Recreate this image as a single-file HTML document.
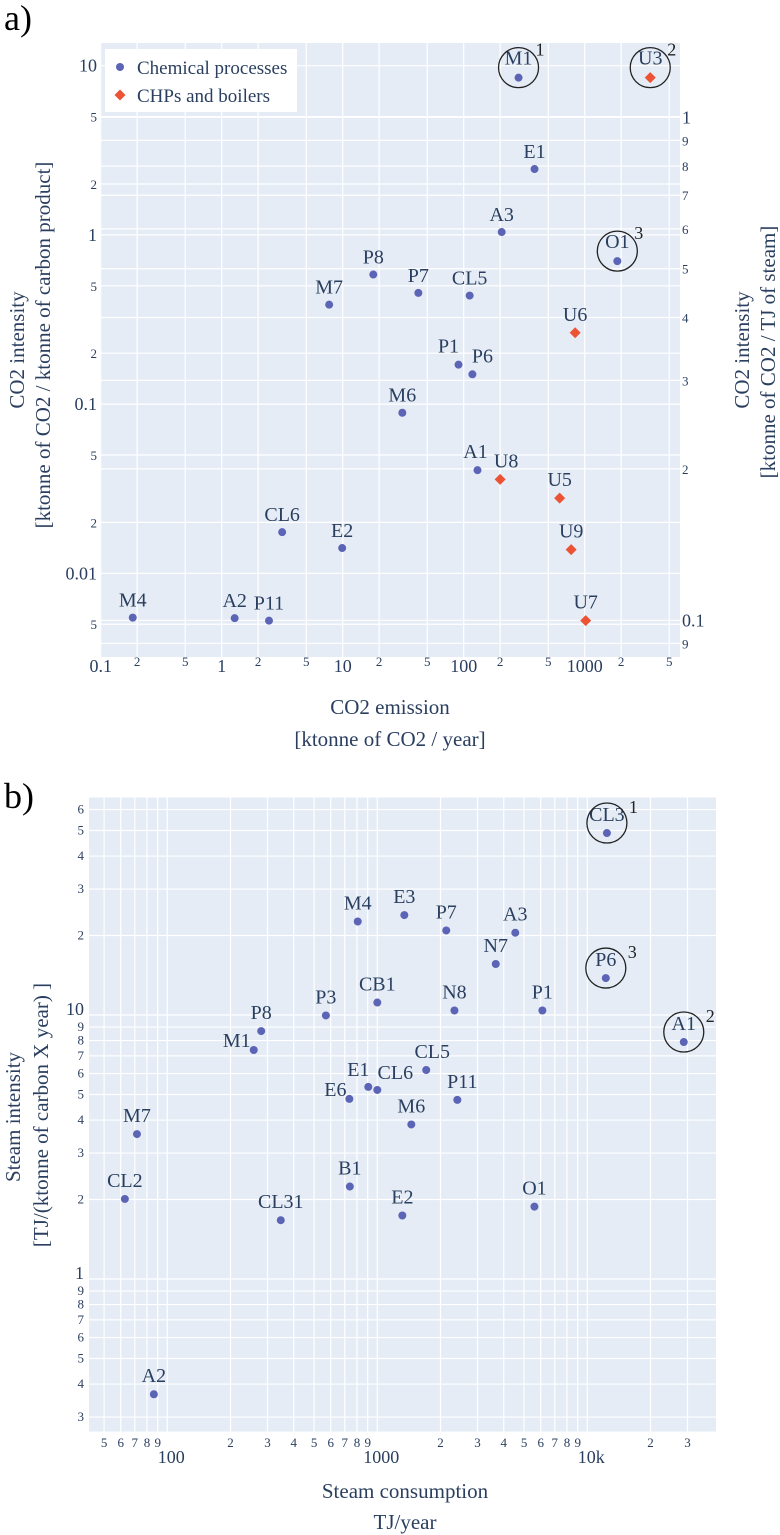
<!DOCTYPE html>
<html><head><meta charset="utf-8">
<style>
html,body{margin:0;padding:0;background:#fff;}
svg{display:block;font-family:"Liberation Serif",serif;}
</style></head>
<body>
<svg id="fig" width="780" height="1535" viewBox="0 0 780 1535" xmlns="http://www.w3.org/2000/svg">
<g id="chartA"></g>
<g id="chartB"></g>
</svg>
<script>
// ---------- Chart a data ----------
const aNames = ["M1","E1","A3","O1","P8","P7","CL5","M7","P1","P6","M6","A1","CL6","E2","M4","A2","P11"];
const aEmission = [284,385,206,1860,17.9,42.2,112,7.73,90.6,118,31.1,130,3.16,9.9,0.184,1.28,2.46];
const aIntensity = [8.5,2.45,1.04,0.70,0.583,0.454,0.438,0.387,0.171,0.150,0.0889,0.0407,0.0175,0.0141,0.00547,0.00543,0.00525];
const bNamesA = ["U3","U6","U8","U5","U9","U7"];
const bEmissionA = [3480,834,200,621,773,1019];
const bIntensityA = [8.5,0.264,0.0359,0.0278,0.0138,0.00525];
const aXTicks = [0.1,0.2,0.5,1,2,5,10,20,50,100,200,500,1000,2000,5000];
const aXTickLabels = ["0.1","2","5","1","2","5","10","2","5","100","2","5","1000","2","5"];
const aYTicks = [10,5,2,1,0.5,0.2,0.1,0.05,0.02,0.01,0.005];
const aYTickLabels = ["10","5","2","1","5","2","0.1","5","2","0.01","5"];
const aY2Ticks = [1,0.9,0.8,0.7,0.6,0.5,0.4,0.3,0.2,0.1,0.09];
const aY2TickLabels = ["1","9","8","7","6","5","4","3","2","0.1","9"];

// ---------- Chart b data ----------
const bNames = ["CL3","P6","A1","M4","E3","P7","A3","N7","CB1","N8","P1","P3","P8","M1","CL5","E1","CL6","E6","P11","M6","M7","B1","O1","CL2","CL31","E2","A2"];
const bSteam = [12400,12250,28800,807,1345,2130,4540,3665,1000,2330,6110,569,280,258,1710,906,1000,736,2405,1452,71.7,740,5600,62.8,347,1316,86.3];
const bSteamIntensity = [48.9,13.8,7.9,22.6,23.9,20.9,20.5,15.6,11.15,10.4,10.4,9.96,8.69,7.37,6.19,5.34,5.20,4.81,4.77,3.85,3.54,2.24,1.88,2.01,1.67,1.74,0.366];
const bXTicks = [50,60,70,80,90,100,200,300,400,500,600,700,800,900,1000,2000,3000,4000,5000,6000,7000,8000,9000,10000,20000,30000];
const bXTickLabels = ["5","6","7","8","9","100","2","3","4","5","6","7","8","9","1000","2","3","4","5","6","7","8","9","10k","2","3"];
const bYTicks = [60,50,40,30,20,10,9,8,7,6,5,4,3,2,1,0.9,0.8,0.7,0.6,0.5,0.4,0.3];
const bYTickLabels = ["6","5","4","3","2","10","9","8","7","6","5","4","3","2","1","9","8","7","6","5","4","3"];

const NS = "http://www.w3.org/2000/svg";
const TXT = "#2a3f5f";
const DOT = "#5c64b6";
const DIA = "#ec5234";
function mk(parent, tag, attrs, text){
  const e = document.createElementNS(NS, tag);
  for (const k in attrs) e.setAttribute(k, attrs[k]);
  if (text !== undefined) e.textContent = text;
  parent.appendChild(e);
  return e;
}
function logScale(v0, p0, pxPerDecade, dir){
  return v => p0 + dir * (Math.log10(v) - Math.log10(v0)) * pxPerDecade;
}
const major = s => !/^[2-9]$/.test(s);

// ================= Chart a =================
(function(){
  const g = document.getElementById('chartA');
  const L=100, R=680, T=43, B=657;
  const xA = logScale(0.1, 100.7, 121, 1);
  const yA = logScale(10, 65.7, 169.2, -1);
  const yA2 = logScale(1, 117.3, 503, -1);
  const t = mk(g,'text',{x:4,y:30,'font-size':36,fill:'#000'},'a)');
   
  const bg = mk(g,'rect',{x:L,y:T,width:R-L,height:B-T,fill:'#e5ecf6'});
   
  const grid = mk(g,'g',{stroke:'#fff','stroke-width':1.2});
   
  aXTicks.forEach((v,i)=>{
    const x=xA(v), m=major(aXTickLabels[i]);
    mk(grid,'line',{x1:x,x2:x,y1:T,y2:B});
    const lab = mk(g,'text',{x:x,y:m?672:666,'text-anchor':'middle','font-size':m?18:13,fill:TXT},aXTickLabels[i]);
     
  });
  aYTicks.forEach((v,i)=>{
    const y=yA(v), m=major(aYTickLabels[i]);
    mk(grid,'line',{x1:L,x2:R,y1:y,y2:y});
    const lab = mk(g,'text',{x:97,y:y+(m?6:5),'text-anchor':'end','font-size':m?18:13,fill:TXT},aYTickLabels[i]);
     
  });
  aY2Ticks.forEach((v,i)=>{
    const y=yA2(v), m=major(aY2TickLabels[i]);
    if (y>=T && y<=B) mk(grid,'line',{x1:L,x2:R,y1:y,y2:y});
    const lab = mk(g,'text',{x:682,y:y+(m?6:5),'text-anchor':'start','font-size':m?18:13,fill:TXT},aY2TickLabels[i]);
     
  });
  const offA = {P1:[-10,-12],P6:[10,-12],A1:[-2,-12],U8:[6,-12],M1:[0,-13],U3:[0,-13],O1:[0,-13]};
  aNames.forEach((n,i)=>{
    const x=xA(aEmission[i]), y=yA(aIntensity[i]);
    const c = mk(g,'circle',{cx:x,cy:y,r:4,fill:DOT});
     
    const o = offA[n]||[0,-11];
    const lb = mk(g,'text',{x:x+o[0],y:y+o[1],'text-anchor':'middle','font-size':20,fill:TXT},n);
     
  });
  bNamesA.forEach((n,i)=>{
    const x=xA(bEmissionA[i]), y=yA(bIntensityA[i]);
    const d = mk(g,'path',{d:`M${x} ${y-5.5}L${x+5.5} ${y}L${x} ${y+5.5}L${x-5.5} ${y}Z`,fill:DIA});
     
    const o = offA[n]||[0,-12];
    const lb = mk(g,'text',{x:x+o[0],y:y+o[1],'text-anchor':'middle','font-size':20,fill:TXT},n);
     
  });
  [["M1",aEmission[0],aIntensity[0],"1"],["U3",bEmissionA[0],bIntensityA[0],"2"],["O1",aEmission[3],aIntensity[3],"3"]].forEach(h=>{
    const x=xA(h[1]), y=yA(h[2])-10;
    const c = mk(g,'circle',{cx:x,cy:y,r:20,fill:'none',stroke:'#222','stroke-width':1.3});
     
    const s = mk(g,'text',{x:x+17,y:y-12,'font-size':18,fill:'#222'},h[3]);
     
  });
  const lg = mk(g,'g',{});
   
  mk(lg,'rect',{x:105,y:49,width:192,height:63,fill:'#fff'});
  const e1 = mk(lg,'g',{});
   
  mk(e1,'circle',{cx:120,cy:67,r:4,fill:DOT});
  mk(e1,'text',{x:137,y:74,'font-size':19,fill:TXT},'Chemical processes');
  const e2 = mk(lg,'g',{});
   
  mk(e2,'path',{d:'M120 89.5L125.5 95L120 100.5L114.5 95Z',fill:DIA});
  mk(e2,'text',{x:137,y:102,'font-size':19,fill:TXT},'CHPs and boilers');
  let tt;
  tt = mk(g,'text',{x:390,y:714,'text-anchor':'middle','font-size':21,fill:TXT},'CO2 emission');
   
  tt = mk(g,'text',{x:390,y:746,'text-anchor':'middle','font-size':21,fill:TXT},'[ktonne of CO2 / year]');
   
  tt = mk(g,'text',{x:0,y:0,'text-anchor':'middle','font-size':21,fill:TXT,transform:'translate(24,350) rotate(-90)'},'CO2 intensity');
   
  tt = mk(g,'text',{x:0,y:0,'text-anchor':'middle','font-size':21,fill:TXT,transform:'translate(50,345) rotate(-90)'},'[ktonne of CO2 / ktonne of carbon product]');
   
  tt = mk(g,'text',{x:0,y:0,'text-anchor':'middle','font-size':21,fill:TXT,transform:'translate(749,350) rotate(-90)'},'CO2 intensity');
   
  tt = mk(g,'text',{x:0,y:0,'text-anchor':'middle','font-size':21,fill:TXT,transform:'translate(775,352) rotate(-90)'},'[ktonne of CO2 / TJ of steam]');
   
})();

// ================= Chart b =================
(function(){
  const g = document.getElementById('chartB');
  const L=89, R=716, T=797.5, B=1431.5;
  const xB = logScale(100, 167.3, 210, 1);
  const yB = logScale(10, 1015, 264, -1);
  const t = mk(g,'text',{x:4,y:808,'font-size':36,fill:'#000'},'b)');
   
  const bg = mk(g,'rect',{x:L,y:T,width:R-L,height:B-T,fill:'#e5ecf6'});
   
  const grid = mk(g,'g',{stroke:'#fff','stroke-width':1.2});
   
  bXTicks.forEach((v,i)=>{
    const x=xB(v), m=major(bXTickLabels[i]);
    mk(grid,'line',{x1:x,x2:x,y1:T,y2:B});
    const lab = mk(g,'text',{x:m?x+4:x,y:m?1463:1447,'text-anchor':'middle','font-size':m?18:13,fill:TXT},bXTickLabels[i]);
     
  });
  bYTicks.forEach((v,i)=>{
    const y=yB(v), m=major(bYTickLabels[i]);
    mk(grid,'line',{x1:L,x2:R,y1:y,y2:y});
    const lab = mk(g,'text',{x:84,y:m?y:y+4,'text-anchor':'end','font-size':m?18:13,fill:TXT},bYTickLabels[i]);
     
  });
  const offB = {E1:[-10,-11],CL6:[18,-11],E6:[-14,-3],M1:[-17,-3],CL5:[6,-12],P11:[5,-12]};
  bNames.forEach((n,i)=>{
    const x=xB(bSteam[i]), y=yB(bSteamIntensity[i]);
    const c = mk(g,'circle',{cx:x,cy:y,r:4,fill:DOT});
     
    const o = offB[n]||[0,-12];
    const lb = mk(g,'text',{x:x+o[0],y:y+o[1],'text-anchor':'middle','font-size':20,fill:TXT},n);
     
  });
  [["CL3",0,"1"],["A1",2,"2"],["P6",1,"3"]].forEach(h=>{
    const x=xB(bSteam[h[1]]), y=yB(bSteamIntensity[h[1]])-10;
    const c = mk(g,'circle',{cx:x,cy:y,r:20,fill:'none',stroke:'#222','stroke-width':1.3});
     
    const s = mk(g,'text',{x:x+22,y:y-10,'font-size':18,fill:'#222'},h[2]);
     
  });
  let tt;
  tt = mk(g,'text',{x:405,y:1498,'text-anchor':'middle','font-size':21,fill:TXT},'Steam consumption');
   
  tt = mk(g,'text',{x:405,y:1529,'text-anchor':'middle','font-size':21,fill:TXT},'TJ/year');
   
  tt = mk(g,'text',{x:0,y:0,'text-anchor':'middle','font-size':21,fill:TXT,transform:'translate(20,1117) rotate(-90)'},'Steam intensity');
   
  tt = mk(g,'text',{x:0,y:0,'text-anchor':'middle','font-size':21,fill:TXT,transform:'translate(48,1115) rotate(-90)'},'[TJ/(ktonne of carbon X year) ]');
   
})();
</script>
</body></html>
